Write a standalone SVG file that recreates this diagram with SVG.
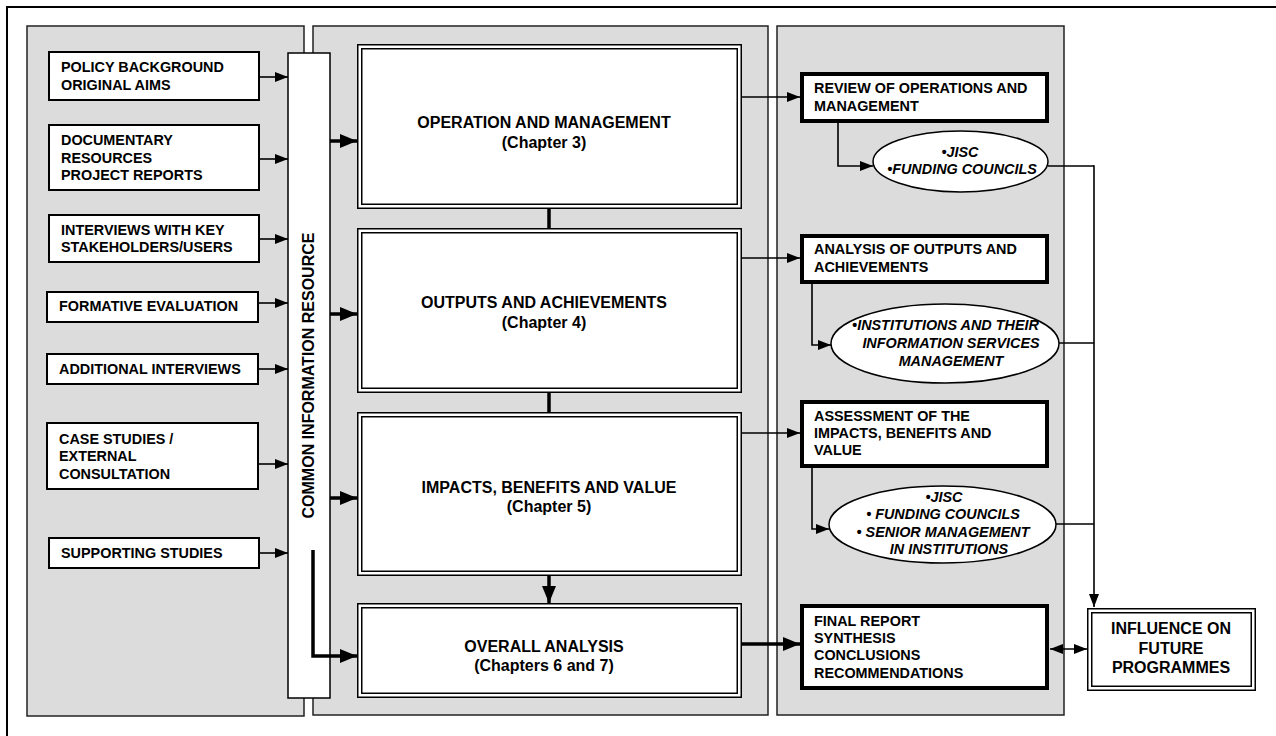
<svg xmlns="http://www.w3.org/2000/svg" width="1276" height="736" viewBox="0 0 1276 736">
<style>
  text { font-family: "Liberation Sans", Arial, sans-serif; font-weight: bold; fill: #000; }
  .lt { font-size: 14.4px; }
  .mt { font-size: 16px; text-anchor: middle; }
  .et { font-size: 14.4px; font-style: italic; text-anchor: middle; }
  .panel { fill: #dcdcdc; stroke: #222; stroke-width: 1.5; }
  .lbox { fill: #fff; stroke: #000; stroke-width: 2; }
  .rbox { fill: #fff; stroke: #000; stroke-width: 4; }
  .dbo { fill: #fff; stroke: #000; stroke-width: 1.5; }
  .dbi { fill: none; stroke: #000; stroke-width: 1.5; }
  .ell { fill: #fff; stroke: #000; stroke-width: 1.5; }
  .thin { fill: none; stroke: #000; stroke-width: 1.6; }
  .thick { fill: none; stroke: #000; stroke-width: 3.5; }
</style>
<defs>
  <marker id="ah" markerUnits="userSpaceOnUse" markerWidth="13" markerHeight="10" refX="13" refY="5" orient="auto-start-reverse">
    <path d="M0,0 L13,5 L0,10 z" fill="#000"/>
  </marker>
  <marker id="ahb" markerUnits="userSpaceOnUse" markerWidth="17" markerHeight="14" refX="17" refY="7" orient="auto">
    <path d="M0,0 L17,7 L0,14 z" fill="#000"/>
  </marker>
</defs>
<rect x="0" y="0" width="1276" height="736" fill="#fff"/>
<rect x="7" y="7" width="1290" height="740" fill="#fff" stroke="#000" stroke-width="2"/>

<g id="panels">
  <rect class="panel" x="27" y="26" width="277" height="690"/>
  <rect class="panel" x="313" y="26" width="455" height="689"/>
  <rect class="panel" x="777" y="26" width="287" height="689"/>
</g>

<g id="common-information-resource">
  <rect x="288" y="53" width="42" height="645" fill="#fff" stroke="#000" stroke-width="1.5"/>
  <text class="mt" transform="translate(314,375.5) rotate(-90)">COMMON INFORMATION RESOURCE</text>
</g>

<g id="policy-background">
  <rect class="lbox" x="49" y="52" width="210" height="48"/>
  <text class="lt" x="61" y="72">POLICY BACKGROUND</text>
  <text class="lt" x="61" y="90">ORIGINAL AIMS</text>
</g>
<g id="documentary-resources">
  <rect class="lbox" x="49" y="125" width="210" height="65"/>
  <text class="lt" x="61" y="145">DOCUMENTARY</text>
  <text class="lt" x="61" y="162.5">RESOURCES</text>
  <text class="lt" x="61" y="180">PROJECT REPORTS</text>
</g>
<g id="interviews-key">
  <rect class="lbox" x="49" y="215" width="210" height="47"/>
  <text class="lt" x="61" y="235">INTERVIEWS WITH KEY</text>
  <text class="lt" x="61" y="252">STAKEHOLDERS/USERS</text>
</g>
<g id="formative-evaluation">
  <rect class="lbox" x="47" y="292" width="211" height="30"/>
  <text class="lt" x="59" y="311">FORMATIVE EVALUATION</text>
</g>
<g id="additional-interviews">
  <rect class="lbox" x="47" y="354" width="211" height="30"/>
  <text class="lt" x="59" y="374">ADDITIONAL INTERVIEWS</text>
</g>
<g id="case-studies">
  <rect class="lbox" x="47" y="423" width="211" height="66"/>
  <text class="lt" x="59" y="444">CASE STUDIES /</text>
  <text class="lt" x="59" y="461">EXTERNAL</text>
  <text class="lt" x="59" y="479">CONSULTATION</text>
</g>
<g id="supporting-studies">
  <rect class="lbox" x="49" y="538" width="210" height="30"/>
  <text class="lt" x="61" y="558">SUPPORTING STUDIES</text>
</g>

<g id="operation-management">
  <rect class="dbo" x="357.75" y="44.75" width="383.5" height="163.5"/>
  <rect class="dbi" x="361.75" y="48.75" width="375.5" height="155.5"/>
  <text class="mt" x="544" y="128">OPERATION AND MANAGEMENT</text>
  <text class="mt" x="544" y="148">(Chapter 3)</text>
</g>
<g id="outputs-achievements">
  <rect class="dbo" x="357.75" y="228.75" width="383.5" height="163.5"/>
  <rect class="dbi" x="361.75" y="232.75" width="375.5" height="155.5"/>
  <text class="mt" x="544" y="308">OUTPUTS AND ACHIEVEMENTS</text>
  <text class="mt" x="544" y="328">(Chapter 4)</text>
</g>
<g id="impacts-benefits">
  <rect class="dbo" x="357.75" y="412.75" width="383.5" height="162.5"/>
  <rect class="dbi" x="361.75" y="416.75" width="375.5" height="154.5"/>
  <text class="mt" x="549" y="493">IMPACTS, BENEFITS AND VALUE</text>
  <text class="mt" x="549" y="512">(Chapter 5)</text>
</g>
<g id="overall-analysis">
  <rect class="dbo" x="357.75" y="603.75" width="383.5" height="93.5"/>
  <rect class="dbi" x="361.75" y="607.75" width="375.5" height="85.5"/>
  <text class="mt" x="544" y="652">OVERALL ANALYSIS</text>
  <text class="mt" x="544" y="671">(Chapters 6 and 7)</text>
</g>

<g id="review-operations">
  <rect class="rbox" x="802" y="74" width="245" height="47"/>
  <text class="lt" x="814" y="93">REVIEW OF OPERATIONS AND</text>
  <text class="lt" x="814" y="111">MANAGEMENT</text>
</g>
<g id="stakeholders-1">
  <ellipse class="ell" cx="960.5" cy="161.5" rx="87.5" ry="30.5"/>
  <text class="et" x="960" y="157">•JISC</text>
  <text class="et" x="962" y="174">•FUNDING COUNCILS</text>
</g>
<g id="analysis-outputs">
  <rect class="rbox" x="802" y="236" width="245" height="46"/>
  <text class="lt" x="814" y="254">ANALYSIS OF OUTPUTS AND</text>
  <text class="lt" x="814" y="272">ACHIEVEMENTS</text>
</g>
<g id="stakeholders-2">
  <ellipse class="ell" cx="945" cy="343.5" rx="114" ry="39.5"/>
  <text class="et" x="945.5" y="330">•INSTITUTIONS AND THEIR</text>
  <text class="et" x="951" y="348">INFORMATION SERVICES</text>
  <text class="et" x="951" y="366">MANAGEMENT</text>
</g>
<g id="assessment-impacts">
  <rect class="rbox" x="802" y="402" width="245" height="64"/>
  <text class="lt" x="814" y="421">ASSESSMENT OF THE</text>
  <text class="lt" x="814" y="438">IMPACTS, BENEFITS AND</text>
  <text class="lt" x="814" y="455">VALUE</text>
</g>
<g id="stakeholders-3">
  <ellipse class="ell" cx="942.5" cy="524.5" rx="113.5" ry="38.5"/>
  <text class="et" x="944" y="502">•JISC</text>
  <text class="et" x="943" y="519">• FUNDING COUNCILS</text>
  <text class="et" x="943" y="537">• SENIOR MANAGEMENT</text>
  <text class="et" x="949" y="554">IN INSTITUTIONS</text>
</g>
<g id="final-report">
  <rect class="rbox" x="802" y="606" width="245" height="82"/>
  <text class="lt" x="814" y="626">FINAL REPORT</text>
  <text class="lt" x="814" y="643">SYNTHESIS</text>
  <text class="lt" x="814" y="660">CONCLUSIONS</text>
  <text class="lt" x="814" y="678">RECOMMENDATIONS</text>
</g>
<g id="influence-future">
  <rect class="dbo" x="1087.75" y="608.75" width="167.5" height="81.5"/>
  <rect class="dbi" x="1091.75" y="612.75" width="159.5" height="73.5"/>
  <text class="mt" x="1171" y="634">INFLUENCE ON</text>
  <text class="mt" x="1171" y="654">FUTURE</text>
  <text class="mt" x="1171" y="673">PROGRAMMES</text>
</g>

<g id="connectors">
  <path class="thin" d="M259,77 H288" marker-end="url(#ah)"/>
  <path class="thin" d="M259,159 H288" marker-end="url(#ah)"/>
  <path class="thin" d="M259,239 H288" marker-end="url(#ah)"/>
  <path class="thin" d="M258,303 H288" marker-end="url(#ah)"/>
  <path class="thin" d="M258,369 H288" marker-end="url(#ah)"/>
  <path class="thin" d="M258,464 H288" marker-end="url(#ah)"/>
  <path class="thin" d="M259,553 H288" marker-end="url(#ah)"/>

  <path class="thick" d="M330,141 H357" marker-end="url(#ahb)"/>
  <path class="thick" d="M330,314 H357" marker-end="url(#ahb)"/>
  <path class="thick" d="M330,498 H357" marker-end="url(#ahb)"/>
  <path class="thick" d="M313,550 V656 H357" marker-end="url(#ahb)"/>

  <path class="thick" d="M549,209 V228"/>
  <path class="thick" d="M549,393 V412"/>
  <path class="thick" d="M549,576 V603" marker-end="url(#ahb)"/>

  <path class="thin" d="M742,97 H800" marker-end="url(#ah)"/>
  <path class="thin" d="M742,258 H800" marker-end="url(#ah)"/>
  <path class="thin" d="M742,433 H800" marker-end="url(#ah)"/>
  <path class="thick" d="M742,644 H800" marker-end="url(#ahb)"/>

  <path class="thin" d="M838,123 V166 H873" marker-end="url(#ah)"/>
  <path class="thin" d="M812,284 V345 H831" marker-end="url(#ah)"/>
  <path class="thin" d="M812,468 V529 H829" marker-end="url(#ah)"/>

  <path class="thin" d="M1048,166 H1094"/>
  <path class="thin" d="M1059,343 H1094"/>
  <path class="thin" d="M1056,524 H1094"/>
  <path class="thin" d="M1094,165.2 V607" marker-end="url(#ah)"/>

  <path class="thin" d="M1050,649 H1087" marker-start="url(#ah)" marker-end="url(#ah)"/>
</g>
</svg>
